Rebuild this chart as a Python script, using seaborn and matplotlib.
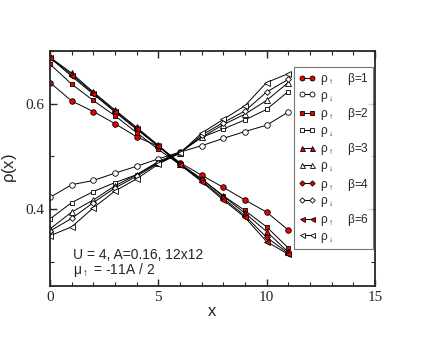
import numpy as np
import pandas as pd
import matplotlib
matplotlib.use('Agg')
import matplotlib.pyplot as plt
import seaborn as sns
from matplotlib.ticker import MultipleLocator

# site index along the strip
x = list(range(12))

# rho_up / rho_down for each beta
up_b1 = [0.640, 0.605, 0.585, 0.562, 0.537, 0.519, 0.488, 0.464, 0.441, 0.417, 0.394, 0.360]
dn_b1 = [0.422, 0.446, 0.454, 0.468, 0.481, 0.495, 0.508, 0.520, 0.534, 0.547, 0.559, 0.584]
up_b2 = [0.675, 0.637, 0.606, 0.577, 0.545, 0.513, 0.484, 0.457, 0.425, 0.397, 0.366, 0.326]
dn_b2 = [0.381, 0.412, 0.433, 0.450, 0.465, 0.490, 0.508, 0.536, 0.552, 0.569, 0.589, 0.623]
up_b3 = [0.688, 0.658, 0.622, 0.588, 0.555, 0.521, 0.486, 0.457, 0.424, 0.392, 0.357, 0.318]
dn_b3 = [0.362, 0.394, 0.417, 0.444, 0.465, 0.488, 0.507, 0.536, 0.560, 0.580, 0.606, 0.640]
up_b4 = [0.688, 0.655, 0.620, 0.586, 0.553, 0.520, 0.485, 0.454, 0.420, 0.387, 0.346, 0.316]
dn_b4 = [0.358, 0.382, 0.412, 0.440, 0.462, 0.487, 0.506, 0.540, 0.564, 0.586, 0.622, 0.646]
up_b6 = [0.687, 0.652, 0.618, 0.584, 0.551, 0.519, 0.484, 0.452, 0.417, 0.384, 0.338, 0.314]
dn_b6 = [0.349, 0.366, 0.402, 0.434, 0.457, 0.485, 0.506, 0.544, 0.570, 0.596, 0.640, 0.657]

betas = ['1', '2', '3', '4', '6']
ups = [up_b1, up_b2, up_b3, up_b4, up_b6]
dns = [dn_b1, dn_b2, dn_b3, dn_b4, dn_b6]
markers = ['o', 's', '^', 'D', '<']
msizes = [4.0, 3.5, 4.0, 3.0, 4.0]

sns.set_style('ticks')
plt.rcParams['font.family'] = ['Liberation Sans', 'DejaVu Sans']
plt.rcParams['mathtext.fontset'] = 'custom'
plt.rcParams['mathtext.rm'] = 'Liberation Sans'
plt.rcParams['mathtext.it'] = 'Liberation Sans'
plt.rcParams['mathtext.bf'] = 'Liberation Sans'

fig = plt.figure(figsize=(4.36, 3.37), dpi=100)
ax = fig.add_axes([0.1147, 0.152, 0.745, 0.6967])

for b, up, dn, m, ms in zip(betas, ups, dns, markers, msizes):
    df = pd.DataFrame({'x': x, 'up': up, 'dn': dn})
    sns.lineplot(data=df, x='x', y='up', ax=ax, color='black', lw=0.7,
                 marker=m, markersize=ms, markerfacecolor='#ee0000',
                 markeredgecolor='black', markeredgewidth=0.6,
                 label=r'$\rho_\uparrow$    $\beta$=' + b)
    sns.lineplot(data=df, x='x', y='dn', ax=ax, color='black', lw=0.7,
                 marker=m, markersize=ms, markerfacecolor='white',
                 markeredgecolor='black', markeredgewidth=0.6,
                 label=r'$\rho_\downarrow$')

ax.set_xlim(0, 15)
ax.set_ylim(0.254, 0.7)
ax.xaxis.set_major_locator(MultipleLocator(5))
ax.xaxis.set_minor_locator(MultipleLocator(1))
ax.yaxis.set_major_locator(MultipleLocator(0.2))
ax.yaxis.set_minor_locator(MultipleLocator(0.1))
ax.tick_params(which='both', direction='in', top=True, right=True,
               labelsize=11, labelfontfamily='Liberation Serif', pad=4)
ax.tick_params(which='major', length=5, width=1)
ax.tick_params(which='minor', length=3, width=0.8)
for s in ax.spines.values():
    s.set_linewidth(1.3)

ax.set_xlabel('x', fontsize=12, labelpad=0)
ax.set_ylabel(r'$\rho$(x)', fontsize=12, labelpad=5)

ax.text(1.05, 0.305, 'U = 4, A=0.16, 12x12', fontsize=10)
ax.text(1.05, 0.277, r'$\mu_\uparrow$ = -11A / 2', fontsize=10)

leg = ax.legend(loc='upper left', bbox_to_anchor=(0.751, 0.933), numpoints=2,
                handlelength=1.5, handletextpad=0.3, labelspacing=0.22,
                fontsize=8.6, frameon=True, fancybox=False, borderpad=0.35,
                borderaxespad=0, markerscale=0.9)
leg.get_frame().set_edgecolor('#555555')
leg.get_frame().set_linewidth(0.8)

fig.savefig('out.png', dpi=100)
